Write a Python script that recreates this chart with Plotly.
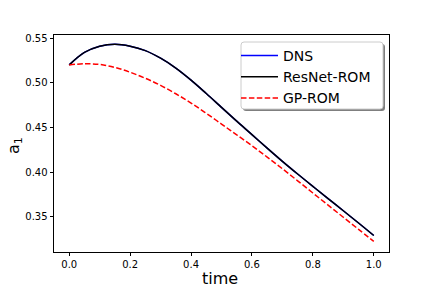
import plotly.graph_objects as go

time = [0.0, 0.05, 0.10, 0.15, 0.20, 0.25, 0.30, 0.35, 0.40, 0.45, 0.50,
        0.55, 0.60, 0.65, 0.70, 0.75, 0.80, 0.85, 0.90, 0.95, 1.00]
dns = [0.5200, 0.5340, 0.5410, 0.5432, 0.5410, 0.5360, 0.5275, 0.5165, 0.5030,
       0.4880, 0.4725, 0.4570, 0.4420, 0.4268, 0.4120, 0.3978, 0.3840, 0.3703,
       0.3567, 0.3430, 0.3290]
resnet_rom = [0.5200, 0.5340, 0.5410, 0.5432, 0.5410, 0.5360, 0.5275, 0.5165, 0.5030,
              0.4880, 0.4725, 0.4570, 0.4420, 0.4268, 0.4120, 0.3978, 0.3840, 0.3703,
              0.3567, 0.3430, 0.3290]
gp_rom = [0.5200, 0.5213, 0.5205, 0.5172, 0.5118, 0.5050, 0.4970, 0.4877, 0.4773,
          0.4658, 0.4538, 0.4417, 0.4295, 0.4168, 0.4037, 0.3902, 0.3766, 0.3630,
          0.3494, 0.3359, 0.3224]

x_ticks = [0.0, 0.2, 0.4, 0.6, 0.8, 1.0]
y_ticks = [0.35, 0.40, 0.45, 0.50, 0.55]

# plot area in page pixels (page has an 8px body offset)
PL, PR, PT, PB = 54, 389, 35, 252
OFF = 8
W, H = 432, 288


def px(x):
    return (x - PL) / (PR - PL)


def py(y):
    return (PB - y) / (PB - PT)


def rounded_rect(x0, y0, x1, y1, r):
    a, b, c, d = px(x0), px(x1), py(y0), py(y1)
    rx, ry = r / (PR - PL), r / (PB - PT)
    return (f"M {a + rx},{c} L {b - rx},{c} Q {b},{c} {b},{c - ry} "
            f"L {b},{d + ry} Q {b},{d} {b - rx},{d} L {a + rx},{d} "
            f"Q {a},{d} {a},{d + ry} L {a},{c - ry} Q {a},{c} {a + rx},{c} Z")


fig = go.Figure()
fig.add_trace(go.Scatter(x=time, y=dns, name="DNS", mode="lines",
                         line=dict(color="blue", width=1.5, shape="spline")))
fig.add_trace(go.Scatter(x=time, y=resnet_rom, name="ResNet-ROM", mode="lines",
                         line=dict(color="black", width=1.5, shape="spline")))
fig.add_trace(go.Scatter(x=time, y=gp_rom, name="GP-ROM", mode="lines",
                         line=dict(color="red", width=1.5, dash="5.5px,2.4px", shape="spline")))

axis_common = dict(showline=True, linecolor="black", linewidth=0.8, mirror=True,
                   ticks="outside", ticklen=3.5, tickwidth=0.8, tickcolor="black",
                   showgrid=False, zeroline=False, automargin=False,
                   tickfont=dict(family="DejaVu Sans", size=10, color="black"))

fig.update_xaxes(range=[-0.05, 1.05], tickvals=x_ticks, tickformat=".1f", **axis_common)
fig.update_yaxes(range=[0.3105, 0.5535], tickvals=y_ticks, tickformat=".2f", **axis_common)

fig.add_annotation(text="time", xref="paper", yref="paper", x=px(220), y=py(278),
                   xanchor="center", yanchor="middle", showarrow=False,
                   font=dict(family="DejaVu Sans", size=16, color="black"))
fig.add_annotation(text="a<sub>1</sub>", xref="paper", yref="paper", x=px(14), y=py(146),
                   xanchor="center", yanchor="middle", showarrow=False, textangle=-90,
                   font=dict(family="DejaVu Sans", size=16, color="black"))

# legend frame with shadow
fig.add_shape(type="path", xref="paper", yref="paper",
              path=rounded_rect(243, 44, 385, 111, 3),
              fillcolor="rgba(0,0,0,0.5)", line=dict(width=0), layer="above")
fig.add_shape(type="path", xref="paper", yref="paper",
              path=rounded_rect(241, 42, 383, 109, 3),
              fillcolor="white", line=dict(color="#cccccc", width=1), layer="above")

fig.update_layout(
    width=W, height=H,
    margin=dict(l=PL - OFF, r=W - PR + OFF, t=PT - OFF, b=H - PB + OFF),
    paper_bgcolor="white", plot_bgcolor="white",
    font=dict(family="DejaVu Sans", color="black"),
    legend=dict(x=px(236), y=py(40), xanchor="left", yanchor="top",
                font=dict(family="DejaVu Sans", size=14, color="black"),
                itemwidth=37,
                bgcolor="rgba(0,0,0,0)", borderwidth=0),
    showlegend=True,
)

fig.write_html("out.html")
